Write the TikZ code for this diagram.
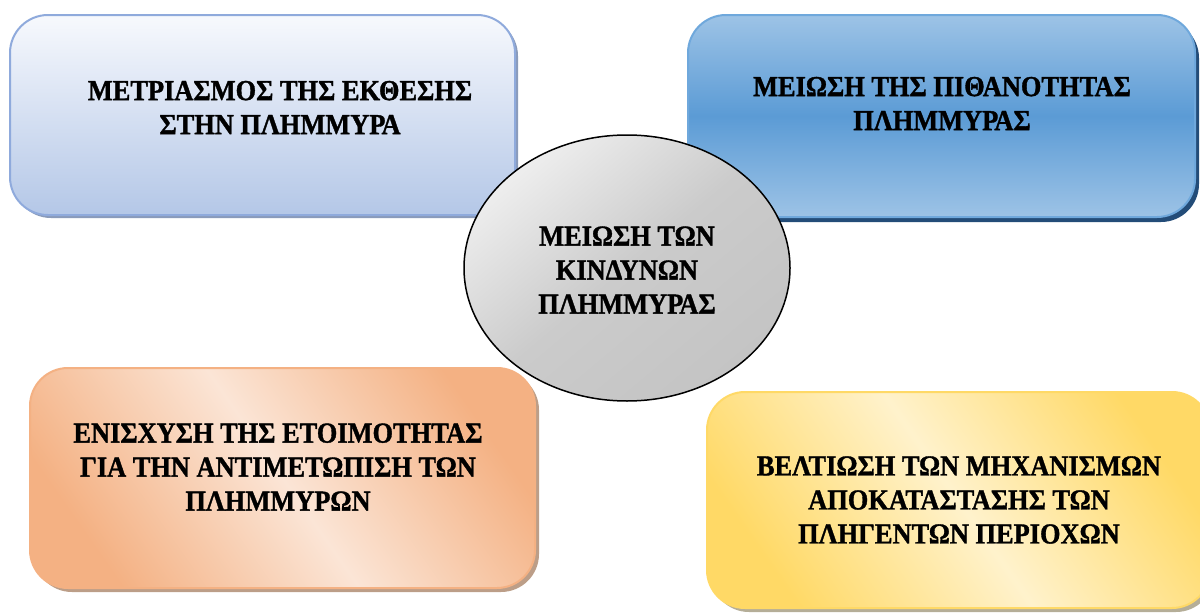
\documentclass[tikz,border=0pt]{standalone}
\usepackage{fontspec}
\setmainfont{Liberation Serif}[BoldFeatures={FakeStretch=0.91, FakeBold=1.2}]
\usetikzlibrary{shapes.geometric,shadows}
\definecolor{aTop}{HTML}{F7F9FD}
\definecolor{aBot}{HTML}{B4C7E7}
\definecolor{aLine}{HTML}{8FAADC}
\definecolor{aShd}{HTML}{8A9BBA}
\definecolor{bLight}{HTML}{9DC3E6}
\definecolor{bDark}{HTML}{5B9BD5}
\definecolor{bLine}{HTML}{6FA8DC}
\definecolor{bShd}{HTML}{234C78}
\definecolor{cDark}{HTML}{F4B183}
\definecolor{cLight}{HTML}{FBE5D6}
\definecolor{cShd}{HTML}{BC9E88}
\definecolor{dDark}{HTML}{FFD966}
\definecolor{dLight}{HTML}{FFF2CC}
\definecolor{dShd}{HTML}{B5AE98}
\definecolor{eLight}{HTML}{EEEEEE}
\definecolor{eMid}{HTML}{CBCBCB}
\definecolor{eDark}{HTML}{C4C4C4}
\tikzset{
  card/.style={rectangle, rounded corners=38pt, inner sep=0pt, outer sep=0pt, line width=2pt},
  cardA/.style={card, draw=aLine, top color=aTop, bottom color=aBot,
     drop shadow={shadow xshift=3pt, shadow yshift=-3pt, fill=aShd, opacity=1}},
  cardB/.style={card, draw=bLine, top color=bLight, bottom color=bLight, middle color=bDark,
     drop shadow={shadow xshift=4pt, shadow yshift=-5pt, fill=bShd, opacity=1}},
  cardC/.style={card, draw=cDark, top color=cDark, bottom color=cDark, middle color=cLight, shading angle=-55,
     drop shadow={shadow xshift=4pt, shadow yshift=-4pt, fill=cShd, opacity=1}},
  cardD/.style={card, draw=dDark, top color=dDark, bottom color=dDark, middle color=dLight, shading angle=-55,
     drop shadow={shadow xshift=4pt, shadow yshift=-4pt, fill=dShd, opacity=1}},
  hub/.style={ellipse, inner sep=0pt, outer sep=0pt, line width=1.5pt, draw=black,
     top color=eLight, bottom color=eDark, middle color=eMid, shading angle=40},
  lbl/.style={align=center, inner sep=0pt, text=black,
     font=\fontsize{29}{34}\selectfont\bfseries}
}
\begin{document}
\begin{tikzpicture}[x=1pt,y=-1pt]
\useasboundingbox (0,0) rectangle (1200,613);
\node[cardA, minimum width=505pt, minimum height=200pt] (b1) at (262.5,115) {};
\node[cardB, minimum width=507pt, minimum height=202pt] (b2) at (941.5,116) {};
\node[hub, minimum width=326pt, minimum height=266pt] (hub) at (627,268) {};
\node[cardC, minimum width=505pt, minimum height=220pt] (b3) at (282.5,478) {};
\node[cardD, minimum width=503pt, minimum height=216pt] (b4) at (958.5,500) {};
\node[lbl] (t1) at (280,107.5) {ΜΕΤΡΙΑΣΜΟΣ ΤΗΣ ΕΚΘΕΣΗΣ\\ΣΤΗΝ ΠΛΗΜΜΥΡΑ};
\node[lbl] (t2) at (942,103.5) {ΜΕΙΩΣΗ ΤΗΣ ΠΙΘΑΝΟΤΗΤΑΣ\\ΠΛΗΜΜΥΡΑΣ};
\node[lbl] (th) at (627,270) {ΜΕΙΩΣΗ ΤΩΝ\\ΚΙΝΔΥΝΩΝ\\ΠΛΗΜΜΥΡΑΣ};
\node[lbl] (t3) at (278,467) {ΕΝΙΣΧΥΣΗ ΤΗΣ ΕΤΟΙΜΟΤΗΤΑΣ\\ΓΙΑ ΤΗΝ ΑΝΤΙΜΕΤΩΠΙΣΗ ΤΩΝ\\ΠΛΗΜΜΥΡΩΝ};
\node[lbl] (t4) at (959,500) {ΒΕΛΤΙΩΣΗ ΤΩΝ ΜΗΧΑΝΙΣΜΩΝ\\ΑΠΟΚΑΤΑΣΤΑΣΗΣ ΤΩΝ\\ΠΛΗΓΕΝΤΩΝ ΠΕΡΙΟΧΩΝ};
\end{tikzpicture}
\end{document}
